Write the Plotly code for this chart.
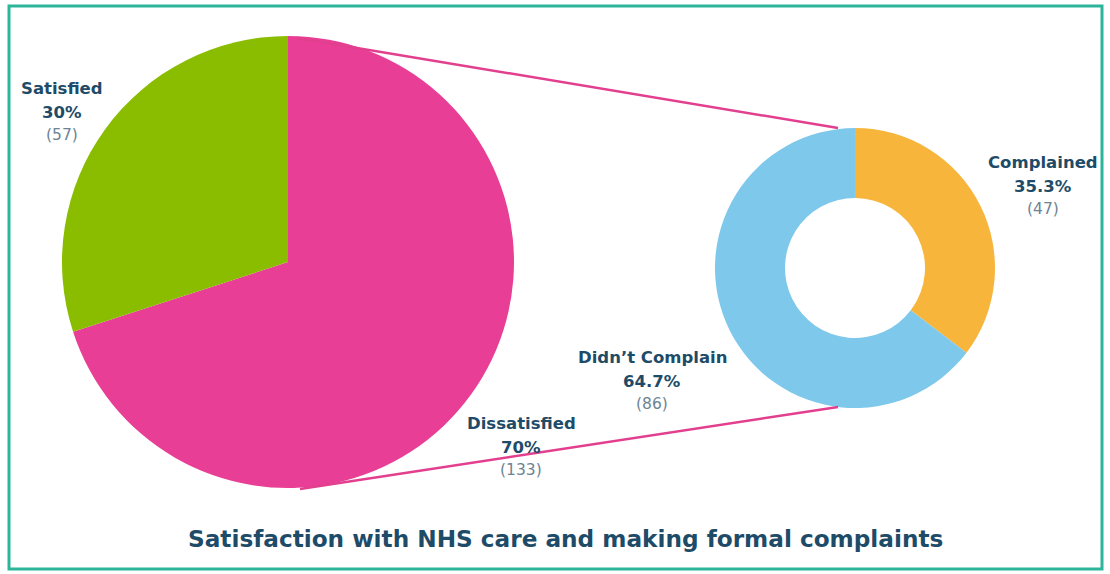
import plotly.graph_objects as go

# Data
sat_labels = ["Satisfied", "Dissatisfied"]
sat_counts = [57, 133]
sat_pct = ["30%", "70%"]
sat_colors = ["#8ABD00", "#E83E95"]

comp_labels = ["Complained", "Didn't Complain"]
comp_counts = [47, 86]
comp_pct = ["35.3%", "64.7%"]
comp_colors = ["#F7B53C", "#7EC8EB"]

title = "Satisfaction with NHS care and making formal complaints"

W, H = 1110, 574
NAVY = "#1E4B68"
GREY = "#6E8394"
FONT = "DejaVu Sans, Verdana, sans-serif"

# pie geometry (pixels)
pc, pr = (288, 262), 226
dc, dr = (855, 268), 140

def dom(c, r):
    return dict(x=[(c[0] - r) / W, (c[0] + r) / W],
                y=[1 - (c[1] + r) / H, 1 - (c[1] - r) / H])

fig = go.Figure()
# drawn clockwise from 12 o'clock with order reversed so Satisfied sits at upper-left
fig.add_trace(go.Pie(labels=sat_labels[::-1], values=sat_counts[::-1], sort=False,
                     direction="clockwise", rotation=0,
                     marker=dict(colors=sat_colors[::-1], line=dict(width=0)),
                     textinfo="none", hoverinfo="skip", domain=dom(pc, pr),
                     showlegend=False))
fig.add_trace(go.Pie(labels=comp_labels, values=comp_counts, sort=False,
                     direction="clockwise", rotation=0, hole=0.5,
                     marker=dict(colors=comp_colors, line=dict(width=0)),
                     textinfo="none", hoverinfo="skip", domain=dom(dc, dr),
                     showlegend=False))

# label positions (pixels): center x, y of first line
label_pos = {
    "Satisfied": (62, 88),
    "Dissatisfied": (521, 423),
    "Complained": (1043, 162),
    "Didn't Complain": (652, 357),
}
anns = []
for labs, cnts, pcts in [(sat_labels, sat_counts, sat_pct), (comp_labels, comp_counts, comp_pct)]:
    for lab, cnt, pct in zip(labs, cnts, pcts):
        x, y = label_pos[lab]
        anns.append(dict(x=x, y=y, text="<b>%s</b>" % lab.replace("'", "\u2019"), showarrow=False,
                         font=dict(size=16.5, color=NAVY, family=FONT), xref="x", yref="y"))
        anns.append(dict(x=x, y=y + 24, text="<b>%s</b>" % pct, showarrow=False,
                         font=dict(size=16.5, color=NAVY, family=FONT), xref="x", yref="y"))
        anns.append(dict(x=x, y=y + 47, text="(%d)" % cnt, showarrow=False,
                         font=dict(size=15.5, color=GREY, family=FONT), xref="x", yref="y"))
anns.append(dict(x=565, y=538, text="<b>%s</b>" % title, showarrow=False,
                 font=dict(size=23.2, color=NAVY, family=FONT), xref="x", yref="y"))

shapes = [
    dict(type="line", x0=297, y0=38, x1=838, y1=128, xref="x", yref="y",
         line=dict(color="#E23F8E", width=2.5), layer="above"),
    dict(type="line", x0=300, y0=489, x1=838, y1=407, xref="x", yref="y",
         line=dict(color="#E23F8E", width=2.5), layer="above"),
    dict(type="rect", x0=9, y0=6, x1=1102, y1=569, xref="x", yref="y",
         line=dict(color="#2DB59A", width=3), layer="above"),
]

fig.update_layout(
    width=W, height=H, margin=dict(l=0, r=0, t=0, b=0),
    paper_bgcolor="white", plot_bgcolor="rgba(0,0,0,0)",
    xaxis=dict(range=[0, W], visible=False, fixedrange=True),
    yaxis=dict(range=[H, 0], visible=False, fixedrange=True),
    annotations=anns, shapes=shapes, showlegend=False,
)
fig.write_html("out.html")
